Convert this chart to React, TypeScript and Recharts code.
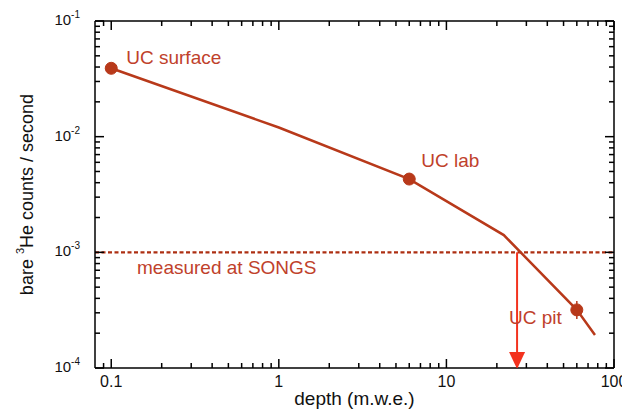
import { LabelList, Line, LineChart, ReferenceLine, XAxis, YAxis } from 'recharts'

// measured bare 3He count rate vs depth
const depth = [0.1, 1, 6, 22, 60, 77]
const rate = [0.039, 0.012, 0.0043, 0.00141, 0.000318, 0.000193]
const site = ['UC surface', '', 'UC lab', '', 'UC pit', '']

// SONGS level and where it crosses the curve
const songsRate = 0.001
const songsDepth = 26.4

// axis ticks
const xMajor = [0.1, 1, 10, 100]
const xMinor = [0.09, 0.2, 0.3, 0.4, 0.5, 0.6, 0.7, 0.8, 0.9, 2, 3, 4, 5, 6, 7, 8, 9, 20, 30, 40, 50, 60, 70, 80, 90]
const yMajor = [0.0001, 0.001, 0.01, 0.1]
const yMinor = [0.0002, 0.0003, 0.0004, 0.0005, 0.0006, 0.0007, 0.0008, 0.0009, 0.002, 0.003, 0.004, 0.005, 0.006, 0.007, 0.008, 0.009, 0.02, 0.03, 0.04, 0.05, 0.06, 0.07, 0.08, 0.09]

const X_DOMAIN: [number, number] = [0.08, 100]
const Y_DOMAIN: [number, number] = [0.0001, 0.1]

const data = depth.map((d, i) => ({ depth: d, rate: rate[i], site: site[i] }))
const arrowData = [
	{ depth: songsDepth, rate: songsRate },
	{ depth: songsDepth, rate: Y_DOMAIN[0] },
]

// layout
const W = 622
const H = 412
const M = { top: 21, right: 8, left: 35, bottom: 0 }
const Y_AXIS_W = 60
const X_AXIS_H = 44
const PLOT_W = W - M.left - M.right - Y_AXIS_W
const PLOT_H = H - M.top - M.bottom - X_AXIS_H

const FONT = '"Liberation Sans", Arial, Helvetica, sans-serif'
const CURVE = '#b8391a'
const TEXT = '#c0412b'
const ARROW = '#f3321e'

// label placement relative to the dot
const labelPos: { [k: string]: { dx: number; dy: number; anchor: 'start' | 'end' } } = {
	'UC surface': { dx: 15, dy: -11, anchor: 'start' },
	'UC lab': { dx: 12, dy: -19, anchor: 'start' },
	'UC pit': { dx: -15, dy: 8, anchor: 'end' },
}

const isMajor = (list: number[], v: number) => list.some((m) => Math.abs(m - v) / m < 1e-6)

// bottom ticks, mirrored on the top edge
const BottomTick = (p: any) => {
	const v = p.payload.value
	const major = isMajor(xMajor, v)
	const len = major ? 9 : 5
	const top = p.y - PLOT_H
	return (
		<g>
			<line x1={p.x} x2={p.x} y1={p.y} y2={p.y - len} stroke='#000' strokeWidth={1.5} />
			<line x1={p.x} x2={p.x} y1={top} y2={top + len} stroke='#000' strokeWidth={1.5} />
			{major && (
				<text x={p.x} y={p.y + 19} textAnchor='middle' fontSize={16} fontFamily={FONT} fill='#111'>
					{v}
				</text>
			)}
		</g>
	)
}

// left ticks, mirrored on the right edge
const LeftTick = (p: any) => {
	const v = p.payload.value
	const major = isMajor(yMajor, v)
	const len = major ? 9 : 5
	const right = p.x + PLOT_W
	const exp = Math.round(Math.log10(v))
	return (
		<g>
			<line x1={p.x} x2={p.x + len} y1={p.y} y2={p.y} stroke='#000' strokeWidth={1.5} />
			<line x1={right} x2={right - len} y1={p.y} y2={p.y} stroke='#000' strokeWidth={1.5} />
			{major && (
				<text x={p.x - 15} y={p.y + 4} textAnchor='end' fontSize={15} fontFamily={FONT} fill='#111'>
					<tspan>10</tspan>
					<tspan dy={-7} fontSize={10}>
						{exp}
					</tspan>
				</text>
			)}
		</g>
	)
}

const SiteDot = (p: any) => {
	if (!p.payload.site) return <g key={p.index} />
	return (
		<g key={p.index}>
			{p.payload.site === 'UC pit' && <line x1={p.cx} x2={p.cx} y1={p.cy - 9} y2={p.cy + 9} stroke={CURVE} strokeWidth={1.5} />}
			<circle cx={p.cx} cy={p.cy} r={6} fill={CURVE} stroke={CURVE} />
		</g>
	)
}

const SiteLabel = (p: any) => {
	const pos = labelPos[p.value]
	if (!pos) return null
	return (
		<text x={p.x + pos.dx} y={p.y + pos.dy} textAnchor={pos.anchor} dominantBaseline='central' fontSize={19} fontFamily={FONT} fill={TEXT}>
			{p.value}
		</text>
	)
}

const ArrowHead = (p: any) => {
	if (p.index !== 1) return <g key={p.index} />
	return <path key={p.index} d={`M${p.cx - 8},${p.cy - 16} L${p.cx + 8},${p.cy - 16} L${p.cx},${p.cy + 1} Z`} fill={ARROW} />
}

export default function App() {
	const ytx = M.left - 8
	const yty = M.top + PLOT_H / 2
	return (
		<div style={{ position: 'absolute', left: 0, top: 0, width: W, height: H, background: '#fff' }}>
			<LineChart width={W} height={H} data={data} margin={M}>
				<XAxis
					type='number'
					dataKey='depth'
					scale='log'
					domain={X_DOMAIN}
					allowDataOverflow
					ticks={[...xMajor, ...xMinor]}
					interval={0}
					tickSize={0}
					tickMargin={0}
					tickLine={false}
					tick={<BottomTick />}
					axisLine={{ stroke: '#000', strokeWidth: 1.5 }}
					height={X_AXIS_H}
				/>
				<YAxis
					type='number'
					dataKey='rate'
					scale='log'
					domain={Y_DOMAIN}
					allowDataOverflow
					ticks={[...yMajor, ...yMinor]}
					interval={0}
					tickSize={0}
					tickMargin={0}
					tickLine={false}
					tick={<LeftTick />}
					axisLine={{ stroke: '#000', strokeWidth: 1.5 }}
					width={Y_AXIS_W}
				/>
				{/* top and right edges of the frame */}
				<ReferenceLine y={Y_DOMAIN[1]} stroke='#000' strokeWidth={1.5} />
				<ReferenceLine x={X_DOMAIN[1]} stroke='#000' strokeWidth={1.5} />
				<ReferenceLine
					y={songsRate}
					stroke='#ad2f12'
					strokeWidth={2.2}
					strokeDasharray='4 2.5'
					label={{
						content: (props: any) => (
							<text x={props.viewBox.x + 42} y={props.viewBox.y + 15} dominantBaseline='central' fontSize={19} fontFamily={FONT} fill={TEXT}>
								measured at SONGS
							</text>
						),
					}}
				/>
				<Line data={arrowData} dataKey='rate' stroke={ARROW} strokeWidth={2} dot={ArrowHead} activeDot={false} isAnimationActive={false} />
				<Line type='linear' dataKey='rate' stroke={CURVE} strokeWidth={2.5} dot={SiteDot} activeDot={false} isAnimationActive={false}>
					<LabelList dataKey='site' content={SiteLabel} />
				</Line>
			</LineChart>
			{/* axis titles */}
			<svg width={W} height={H} style={{ position: 'absolute', left: 0, top: 0, pointerEvents: 'none' }}>
				<text x={M.left + Y_AXIS_W + PLOT_W / 2} y={M.top + PLOT_H + 37} textAnchor='middle' fontSize={19} fontFamily={FONT} fill='#111'>
					depth (m.w.e.)
				</text>
				<text x={ytx} y={yty} transform={`rotate(-90 ${ytx} ${yty})`} textAnchor='middle' dominantBaseline='central' fontSize={18} fontFamily={FONT} fill='#111'>
					<tspan>bare </tspan>
					<tspan dy={-7} fontSize={11}>
						3
					</tspan>
					<tspan dy={7}>He counts / second</tspan>
				</text>
			</svg>
		</div>
	)
}
